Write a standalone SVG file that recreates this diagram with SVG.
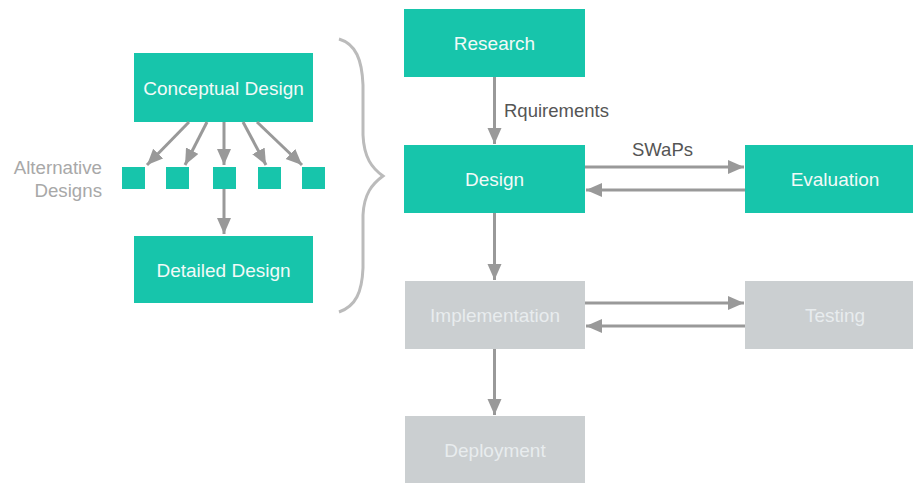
<svg xmlns="http://www.w3.org/2000/svg" width="913" height="483" viewBox="0 0 913 483">
<defs>
<marker id="ah" markerUnits="userSpaceOnUse" markerWidth="18" markerHeight="16" refX="16" refY="7" orient="auto">
<path d="M0,0 L16,7 L0,14 Z" fill="#999999"/>
</marker>
<style>
.box{fill:#17C5AB}
.gbox{fill:#CBCFD1}
.lbl{font-family:"Liberation Sans",Arial,sans-serif;font-size:19px;fill:#F2FAF8;text-anchor:middle}
.glbl{font-family:"Liberation Sans",Arial,sans-serif;font-size:19px;fill:#E8ECEE;text-anchor:middle}
.note{font-family:"Liberation Sans",Arial,sans-serif;font-size:18.5px;fill:#555555}
.alt{font-family:"Liberation Sans",Arial,sans-serif;font-size:18.7px;fill:#A8A8A8;text-anchor:end}
.c{stroke:#999999;stroke-width:3;fill:none;marker-end:url(#ah)}
.sq{fill:#17C5AB}
</style>
</defs>
<rect width="913" height="483" fill="#FFFFFF"/>

<g id="conceptual"><rect class="box" x="134" y="53" width="179" height="69"/><text class="lbl" x="223.5" y="95">Conceptual Design</text></g>
<g id="alt1"><rect class="sq" x="122" y="167" width="23" height="22"/></g>
<g id="alt2"><rect class="sq" x="166" y="167" width="23" height="22"/></g>
<g id="alt3"><rect class="sq" x="213" y="167" width="23" height="22"/></g>
<g id="alt4"><rect class="sq" x="258" y="167" width="23" height="22"/></g>
<g id="alt5"><rect class="sq" x="302" y="167" width="23" height="22"/></g>
<g id="altlabel"><text class="alt" x="102" y="174">Alternative</text><text class="alt" x="102" y="197">Designs</text></g>
<g id="detailed"><rect class="box" x="134" y="236" width="179" height="67"/><text class="lbl" x="223.5" y="277">Detailed Design</text></g>

<g id="brace"><path d="M339,39 C356,44 362,60 363,85 L363,135 C364,158 372,168 383,176 C372,184 364,194 363,215 L363,268 C362,292 356,306 339,312" fill="none" stroke="#BBBBBB" stroke-width="3"/></g>

<g id="research"><rect class="box" x="404" y="9" width="181" height="68"/><text class="lbl" x="494.5" y="50">Research</text></g>
<g id="design"><rect class="box" x="404" y="145" width="181" height="68"/><text class="lbl" x="494.5" y="186">Design</text></g>
<g id="evaluation"><rect class="box" x="745" y="145" width="181" height="68"/><text class="lbl" x="835" y="186">Evaluation</text></g>
<g id="implementation"><rect class="gbox" x="405" y="281" width="180" height="68"/><text class="glbl" x="495" y="322">Implementation</text></g>
<g id="testing"><rect class="gbox" x="745" y="281" width="181" height="68"/><text class="glbl" x="835" y="322">Testing</text></g>
<g id="deployment"><rect class="gbox" x="405" y="416" width="180" height="68"/><text class="glbl" x="495" y="457">Deployment</text></g>

<g id="connectors">
<line class="c" x1="189" y1="122" x2="147" y2="165"/>
<line class="c" x1="207" y1="122" x2="185" y2="165"/>
<line class="c" x1="224" y1="122" x2="224" y2="165"/>
<line class="c" x1="243" y1="122" x2="266" y2="165"/>
<line class="c" x1="257" y1="122" x2="302" y2="165"/>
<line class="c" x1="224" y1="189" x2="224" y2="234"/>
<line class="c" x1="494.5" y1="77" x2="494.5" y2="144"/>
<line class="c" x1="585" y1="167" x2="744" y2="167"/>
<line class="c" x1="745" y1="190" x2="586" y2="190"/>
<line class="c" x1="494.5" y1="213" x2="494.5" y2="280"/>
<line class="c" x1="585" y1="303" x2="744" y2="303"/>
<line class="c" x1="745" y1="326" x2="586" y2="326"/>
<line class="c" x1="494.5" y1="349" x2="494.5" y2="415"/>
<text class="note" x="504" y="117">Rquirements</text>
<text class="note" x="632" y="156">SWaPs</text>
</g>
</svg>
